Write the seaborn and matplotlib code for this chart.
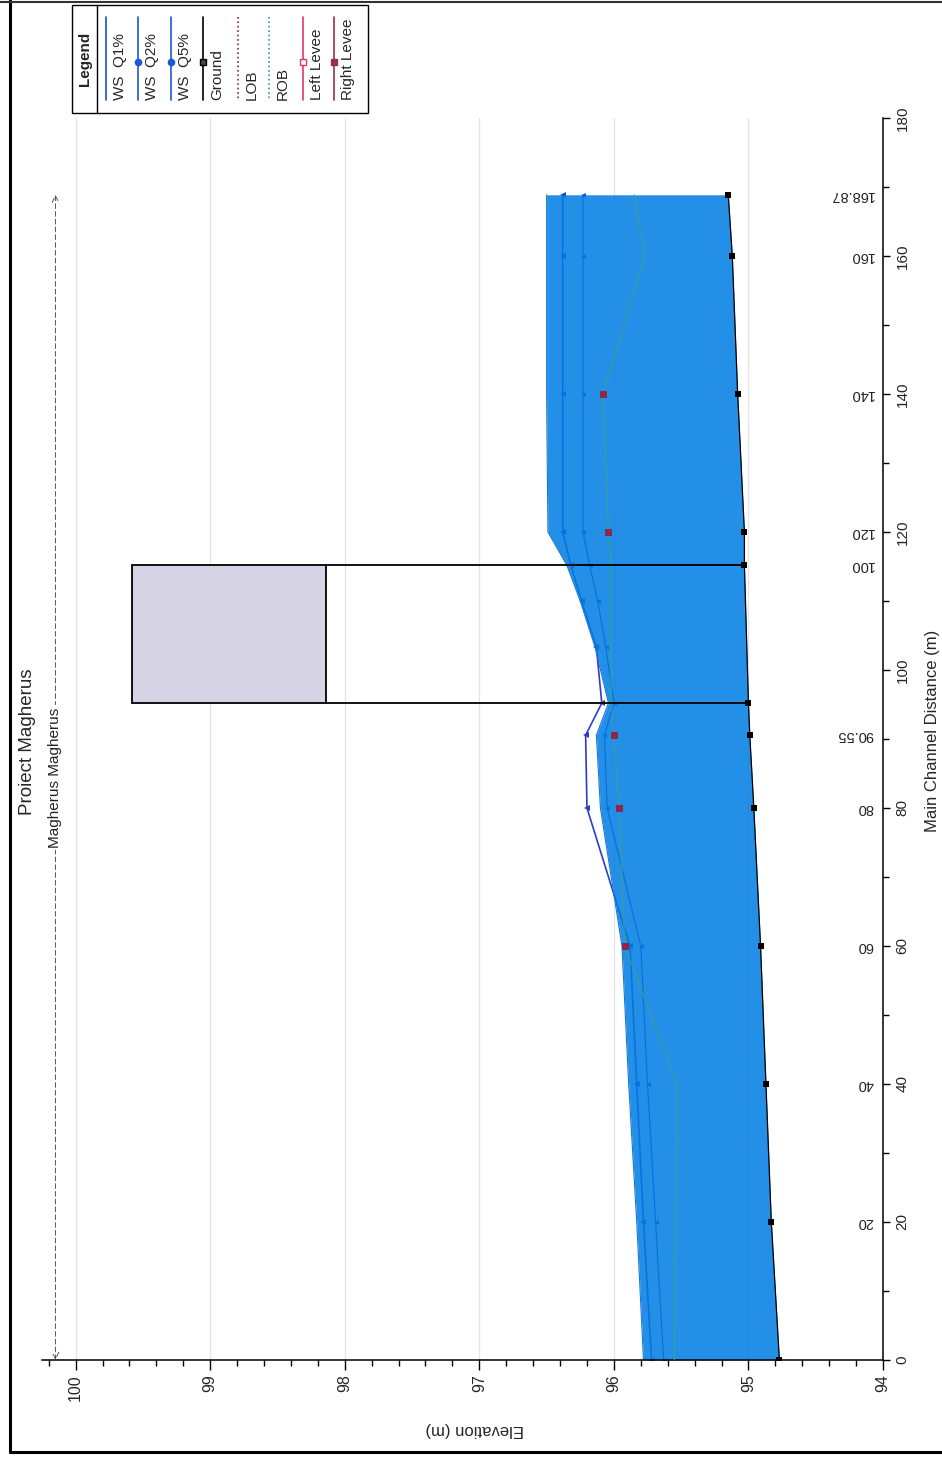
import numpy as np
import matplotlib
matplotlib.use("Agg")
import matplotlib.pyplot as plt
from matplotlib.ticker import MultipleLocator
from matplotlib.lines import Line2D
from matplotlib.patches import Rectangle
import seaborn as sns

# ---------------- data ----------------
ws_dist = [0, 20, 40, 60, 80, 90.55, 95.2, 103.3, 110, 115.2, 120, 140, 160, 168.87]
ws_q1 = [95.78, 95.83, 95.89, 95.94, 96.10, 96.13, 96.04, 96.14, 96.25, 96.35, 96.49, 96.50, 96.50, 96.50]
ws_q2 = [95.72, 95.78, 95.83, 95.88, 96.20, 96.21, 96.09, 96.13, 96.24, 96.32, 96.38, 96.38, 96.38, 96.38]
ws_q5 = [95.63, 95.69, 95.75, 95.80, 96.05, 96.07, 96.00, 96.06, 96.12, 96.18, 96.23, 96.23, 96.23, 96.23]

ground_dist = [0, 20, 40, 60, 80, 90.55, 95.2, 115.2, 120, 140, 160, 168.87]
ground_elev = [94.77, 94.83, 94.87, 94.91, 94.96, 94.99, 95.00, 95.03, 95.03, 95.08, 95.12, 95.15]

rob_elev = [95.55, 95.54, 95.53, 95.92, 95.96, 96.00, 96.02, 96.02, 96.04, 96.08, 95.77, 95.85]

levee_dist = [60, 80, 90.55, 120, 140]
levee_elev = [95.92, 95.96, 96.00, 96.04, 96.08]

bridge_dist = [95.2, 115.2]
bridge_high = 99.58
bridge_low = 98.14

station_dist = [168.87, 160, 140, 120, 115.2, 90.55, 80, 60, 40, 20]
station_labels = ["168.87", "160", "140", "120", "100", "90.55", "80", "60", "40", "20"]

legend_labels = ["WS  Q1%", "WS  Q2%", "WS  Q5%", "Ground", "LOB", "ROB", "Left Levee", "Right Levee"]

title = "Proiect Magherus"
reach_label = "Magherus Magherus"

# ---------------- style ----------------
sns.set_theme(style="white")
plt.rcParams["font.family"] = ["Liberation Sans", "DejaVu Sans"]

W, H = 942, 1458
fig = plt.figure(figsize=(W / 100, H / 100), dpi=100)
fig.patch.set_facecolor("white")


def px(x, y):
    return x / W, 1 - y / H


ax_l, ax_r, ax_t, ax_b = 42, 883, 118, 1360
ax = fig.add_axes([ax_l / W, 1 - ax_b / H, (ax_r - ax_l) / W, (ax_b - ax_t) / H])
ax.set_facecolor("white")
ax.set_xlim(100.25, 94)
ax.set_ylim(0, 180)

# grid (faint)
for e in range(94, 101):
    ax.axvline(e, color="#e4e3ee", lw=0.9, zorder=0)

# water surface lines for Q2 / Q5 (under a slightly translucent fill)
sns.lineplot(x=ws_q5, y=ws_dist, orient="y", ax=ax, color="#1e3fb8", lw=0.9, zorder=1.6,
             marker="<", markersize=3.5, markeredgewidth=0, estimator=None)
sns.lineplot(x=ws_q2, y=ws_dist, orient="y", ax=ax, color="#2a3fc8", lw=1.2, zorder=1.7,
             marker="<", markersize=5, markeredgewidth=0, estimator=None)

ground_at_ws = np.interp(ws_dist, ground_dist, ground_elev)
ax.fill_betweenx(ws_dist, ws_q1, ground_at_ws, color="#007de4", alpha=0.86, lw=0, zorder=2)
sns.lineplot(x=ws_q1, y=ws_dist, orient="y", ax=ax, color="#1a78d8", lw=0.8, zorder=2.5,
             estimator=None)

# bridge deck
ax.fill_betweenx(bridge_dist, bridge_low, bridge_high, color="#d6d4e4", lw=0, zorder=1)
for d in bridge_dist:
    g = np.interp(d, ground_dist, ground_elev)
    ax.plot([bridge_high, g], [d, d], color="black", lw=1.3, zorder=6)
for e in (bridge_high, bridge_low):
    ax.plot([e, e], bridge_dist, color="black", lw=1.3, zorder=6)

# ROB
sns.lineplot(x=rob_elev, y=ground_dist, orient="y", ax=ax, color="#3a9e96", lw=0.8, zorder=4,
             estimator=None)

# levee markers
sns.scatterplot(x=levee_elev, y=levee_dist, ax=ax, marker="s", s=15, color="#a81e3a",
                edgecolor="#7d1030", linewidth=0.4, zorder=7)

# ground
sns.lineplot(x=ground_elev, y=ground_dist, orient="y", ax=ax, color="black", lw=0.9, zorder=6,
             marker="s", markersize=4.5, markeredgewidth=0, estimator=None)

# reach line
reach_x = 100.15
ax.annotate("", xy=(reach_x, 0), xytext=(reach_x, ground_dist[-1]),
            arrowprops=dict(arrowstyle="<->", lw=0.7, color="#555555", ls=(0, (5, 3)),
                            shrinkA=0, shrinkB=0), zorder=3)
ax.text(reach_x, ground_dist[-1] / 2, reach_label, rotation=90, ha="center", va="center",
        fontsize=11, color="#222222", zorder=4,
        bbox=dict(facecolor="white", edgecolor="none", pad=1.5))

# station labels
for d, lab in zip(station_dist, station_labels):
    ax.text(94.07, d, lab, rotation=180, ha="right", va="center", fontsize=10.5, color="#222222")

# axes styling
for s in ("left", "top"):
    ax.spines[s].set_visible(False)
for s in ("right", "bottom"):
    ax.spines[s].set_visible(True)
    ax.spines[s].set_color("black")
    ax.spines[s].set_linewidth(1.1)

ax.yaxis.tick_right()
ax.xaxis.set_major_locator(MultipleLocator(1))
ax.xaxis.set_minor_locator(MultipleLocator(0.2))
ax.yaxis.set_major_locator(MultipleLocator(20))
ax.yaxis.set_minor_locator(MultipleLocator(10))
ax.tick_params(axis="x", which="major", direction="out", length=7, width=1, color="black",
               labelsize=11.5, labelrotation=90, pad=3, bottom=True)
ax.tick_params(axis="x", which="minor", direction="out", length=4, width=1, color="black", bottom=True)
ax.tick_params(axis="y", which="major", direction="out", length=5, width=1, color="black",
               labelsize=11, labelrotation=90, pad=4, right=True, left=False)
ax.tick_params(axis="y", which="minor", direction="out", length=4, width=1, color="black",
               right=True, left=False)
ax.set_xticks(range(94, 101))
ax.set_xticklabels([str(v) for v in range(94, 101)])
for lbl in ax.get_yticklabels():
    lbl.set_va("center")

ax.set_xlabel("Elevation (m)", rotation=180, fontsize=12)
ax.xaxis.set_label_coords((475 - ax_l) / (ax_r - ax_l), -(1430 - ax_b) / (ax_b - ax_t))
ax.xaxis.label.set_va("center")
ax.set_ylabel("Main Channel Distance (m)", rotation=90, fontsize=12)
ax.yaxis.set_label_position("right")
ax.yaxis.set_label_coords((933 - ax_l) / (ax_r - ax_l), (ax_b - 731) / (ax_b - ax_t))
ax.yaxis.label.set_va("center")

# title
fig.text(*px(28, 742), title, rotation=90, ha="center", va="center", fontsize=13.5)

# legend (manual, rotated)
fig.add_artist(Rectangle(px(72, 113), 296 / W, 108 / H, transform=fig.transFigure,
                         fill=False, edgecolor="black", lw=1))
fig.add_artist(Line2D([97 / W, 97 / W], [1 - 5 / H, 1 - 113 / H], transform=fig.transFigure,
                      color="black", lw=1))
fig.text(*px(85, 59), "Legend", rotation=90, ha="center", va="center", fontsize=11,
         fontweight="bold")
leg_x = [120, 152, 185, 217, 252, 283, 317, 348]
leg_style = [
    dict(color="#1f4fd8", ls="-", marker=None),
    dict(color="#1f55d8", ls="-", marker="o", mfc="#1f55d8", mec="#1f55d8"),
    dict(color="#1f55d8", ls="-", marker="o", mfc="#1f55d8", mec="#1f55d8"),
    dict(color="black", ls="-", marker="s", mfc="#444444", mec="black"),
    dict(color="#8b2252", ls=":", marker=None),
    dict(color="#2c9c92", ls=":", marker=None),
    dict(color="#e8336b", ls="-", marker="s", mfc="white", mec="#e8336b"),
    dict(color="#9b2c55", ls="-", marker="s", mfc="#9b2c55", mec="#9b2c55"),
]
for x, lab, st in zip(leg_x, legend_labels, leg_style):
    lx = (x - 14) / W
    fig.add_artist(Line2D([lx, lx], [1 - 17 / H, 1 - 100 / H], transform=fig.transFigure,
                          color=st["color"], ls=st["ls"], lw=1.2))
    if st["marker"]:
        fig.add_artist(Line2D([lx], [1 - 62 / H], transform=fig.transFigure, marker=st["marker"],
                              markersize=4.5, mfc=st["mfc"], mec=st["mec"], ls="none"))
    fig.text(x / W, 1 - 100 / H, lab, rotation=90, ha="center", va="bottom", fontsize=11)

# outer frame
fig.add_artist(Line2D([10 / W, 10 / W], [1, 1 - 1452 / H], transform=fig.transFigure,
                      color="black", lw=2.2))
fig.add_artist(Line2D([10 / W, 1], [1 - 1452 / H, 1 - 1452 / H], transform=fig.transFigure,
                      color="black", lw=2.2))
fig.add_artist(Line2D([0, 1], [1 - 1.5 / H, 1 - 1.5 / H], transform=fig.transFigure,
                      color="#333333", lw=1.5))

fig.savefig("out.png", dpi=100, facecolor="white")
